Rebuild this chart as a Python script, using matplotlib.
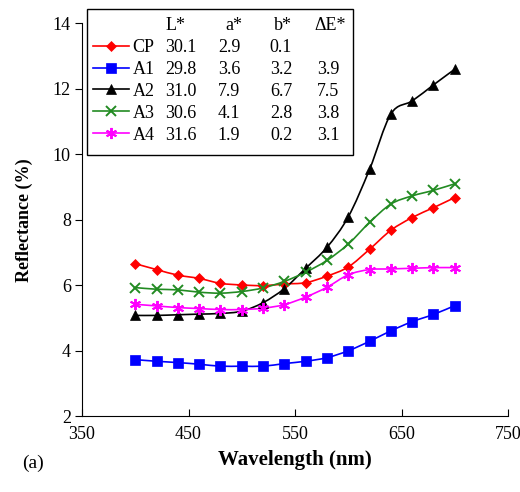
import matplotlib
matplotlib.use("Agg")
import matplotlib.pyplot as plt
from matplotlib.lines import Line2D
from matplotlib.patches import PathPatch, Rectangle
from matplotlib.path import Path

plt.rcParams["font.family"] = ["Liberation Serif", "DejaVu Serif"]

# Reflectance spectra (%) sampled every 20 nm
wavelength = [400, 420, 440, 460, 480, 500, 520, 540, 560, 580, 600, 620, 640, 660, 680, 700]
cp = [6.66, 6.48, 6.31, 6.21, 6.06, 6.01, 5.99, 6.04, 6.08, 6.28, 6.56, 7.10, 7.68, 8.07, 8.37, 8.68]
a1 = [3.73, 3.68, 3.64, 3.59, 3.53, 3.53, 3.53, 3.61, 3.68, 3.79, 4.00, 4.29, 4.61, 4.89, 5.11, 5.38]
a2 = [5.08, 5.08, 5.10, 5.12, 5.14, 5.21, 5.47, 5.90, 6.52, 7.16, 8.09, 9.54, 11.23, 11.63, 12.12, 12.60]
a3 = [5.93, 5.88, 5.86, 5.79, 5.76, 5.81, 5.92, 6.12, 6.40, 6.76, 7.26, 7.92, 8.48, 8.73, 8.90, 9.10]
a4 = [5.42, 5.37, 5.32, 5.29, 5.26, 5.26, 5.30, 5.41, 5.64, 5.94, 6.32, 6.48, 6.50, 6.52, 6.54, 6.54]

# CIELab values for the inset table
names = ["CP", "A1", "A2", "A3", "A4"]
L_star = ["30.1", "29.8", "31.0", "30.6", "31.6"]
a_star = ["2.9", "3.6", "7.9", "4.1", "1.9"]
b_star = ["0.1", "3.2", "6.7", "2.8", "0.2"]
dE_star = ["", "3.9", "7.5", "3.8", "3.1"]

series = [cp, a1, a2, a3, a4]
colors = ["#ff0000", "#0000ff", "#000000", "#228b22", "#ff00ff"]
markers = ["D", "s", "^", "x", (6, 2, 0)]
msizes = [5.5, 6.5, 7.5, 7.5, 8]


def smooth_path(x, y, t=1 / 6):
    # Catmull-Rom style cubic Bezier through the points (spreadsheet "smoothed line")
    n = len(x)
    verts = [(x[0], y[0])]
    codes = [Path.MOVETO]
    for i in range(n - 1):
        x0, y0 = (x[i - 1], y[i - 1]) if i > 0 else (x[i], y[i])
        x3, y3 = (x[i + 2], y[i + 2]) if i + 2 < n else (x[i + 1], y[i + 1])
        c1 = (x[i] + (x[i + 1] - x0) * t, y[i] + (y[i + 1] - y0) * t)
        c2 = (x[i + 1] - (x3 - x[i]) * t, y[i + 1] - (y3 - y[i]) * t)
        verts += [c1, c2, (x[i + 1], y[i + 1])]
        codes += [Path.CURVE4] * 3
    return Path(verts, codes)


fig = plt.figure(figsize=(5.2, 4.92), dpi=100)
ax = fig.add_axes([0.1577, 0.1539, 0.8193, 0.7987])

handles = []
for vals, c, m, ms in zip(series, colors, markers, msizes):
    ax.add_patch(PathPatch(smooth_path(wavelength, vals), fill=False, edgecolor=c, lw=1.2))
    mew = 1.4 if m in ("x", (6, 2, 0)) else 0.5
    ax.plot(wavelength, vals, ls="none", marker=m, ms=ms, color=c, mew=mew)
    handles.append(Line2D([], [], color=c, lw=1.2, marker=m, ms=ms, mew=mew))

ax.set_xlim(350, 750)
ax.set_ylim(2, 14)
ax.set_xticks(range(350, 751, 100))
ax.set_yticks(range(2, 15, 2))
ax.spines["top"].set_visible(False)
ax.spines["right"].set_visible(False)
ax.tick_params(axis="x", direction="in", length=5, labelsize=13, pad=7)
ax.tick_params(axis="y", direction="out", length=5, labelsize=13, pad=3)
ax.set_xlabel("Wavelength (nm)", fontsize=15, fontweight="bold", labelpad=5)
ax.set_ylabel("Reflectance (%)", fontsize=13, fontweight="bold", labelpad=14)
fig.text(0.042, 0.059, "(a)", fontsize=14, va="center", ha="left")

# inset table with legend keys
def ax_x(px):
    return (px - 82) / 426


def ax_y(py):
    return (416.3 - py) / 393


ax.add_patch(Rectangle((ax_x(87), ax_y(155)), ax_x(353) - ax_x(87), ax_y(9) - ax_y(155),
                       transform=ax.transAxes, fill=False, ec="black", lw=1, clip_on=False))
leg = ax.legend(handles, names, loc="upper left", bbox_to_anchor=(ax_x(93), ax_y(39)),
                frameon=False, fontsize=13, handlelength=2.0, handletextpad=0.2,
                labelspacing=0.27, borderpad=0, borderaxespad=0)

row_y = [47, 69, 91, 113, 135]
col_x = [181, 229, 281, 328]
headers = ["L*", "a*", "b*", "ΔE*"]
head_x = [176, 234, 283, 330]
for hx, h in zip(head_x, headers):
    ax.text(ax_x(hx), ax_y(25), h, transform=ax.transAxes, ha="center", va="center", fontsize=13)
for cx, col in zip(col_x, [L_star, a_star, b_star, dE_star]):
    for ry, v in zip(row_y, col):
        ax.text(ax_x(cx), ax_y(ry), v, transform=ax.transAxes, ha="center", va="center", fontsize=13)

fig.savefig("out.png", dpi=100)
